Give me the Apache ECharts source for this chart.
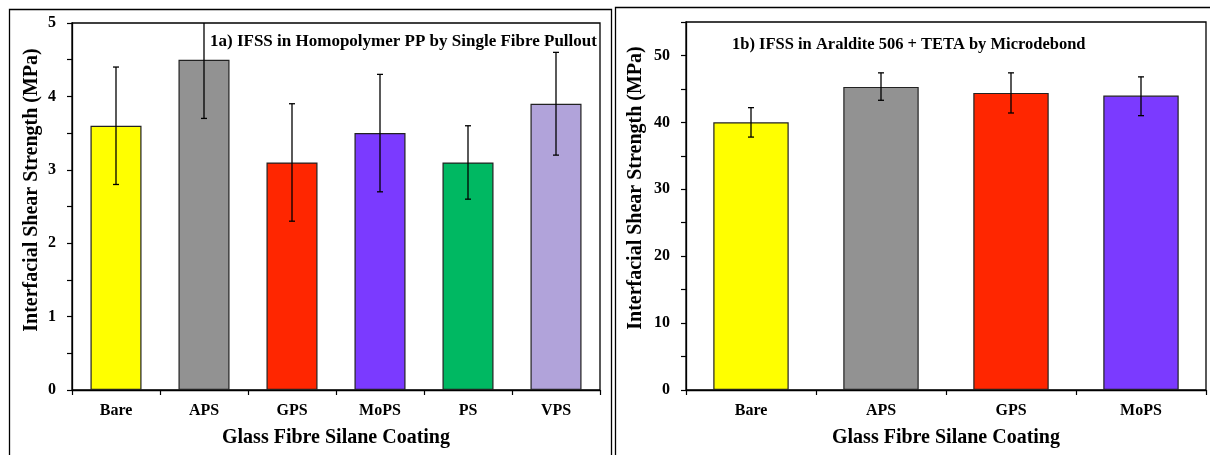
<!DOCTYPE html>
<html><head><meta charset="utf-8">
<script src="https://cdn.jsdelivr.net/npm/echarts@6/dist/echarts.min.js"></script>
<style>html,body{margin:0;padding:0;background:#fff}#c{width:1210px;height:455px}</style>
</head><body><div id="c"></div>
<script>
// ---- Data ----
const catsA = ['Bare', 'APS', 'GPS', 'MoPS', 'PS', 'VPS'];
const valsA = [3.6, 4.5, 3.1, 3.5, 3.1, 3.9];
const errLowA = [2.8, 3.7, 2.3, 2.7, 2.6, 3.2];
const errHighA = [4.4, 5.3, 3.9, 4.3, 3.6, 4.6];
const colorsA = ['#FFFF00', '#929292', '#FF2600', '#7B3AFF', '#00B862', '#B1A3DA'];

const catsB = ['Bare', 'APS', 'GPS', 'MoPS'];
const valsB = [40.0, 45.3, 44.4, 44.0];
const errLowB = [37.8, 43.3, 41.4, 41.0];
const errHighB = [42.2, 47.4, 47.4, 46.8];
const colorsB = ['#FFFF00', '#929292', '#FF2600', '#7B3AFF'];

const titleA = '1a) IFSS in Homopolymer PP by Single Fibre Pullout';
const titleB = '1b) IFSS in Araldite 506 + TETA by Microdebond';
const yName = 'Interfacial Shear Strength (MPa)';
const xName = 'Glass Fibre Silane Coating';

// ---- Chart ----
const FONT = "'Liberation Serif', 'Times New Roman', serif";
const chart = echarts.init(document.getElementById('c'), null, {renderer: 'canvas'});

function errRender(params, api) {
  const i = api.value(0);
  const lo = api.coord([i, api.value(1)]);
  const hi = api.coord([i, api.value(2)]);
  const cs = params.coordSys;
  const top = Math.max(hi[1], cs.y);
  const w = 3;
  const st = {stroke: '#000', lineWidth: 1.3};
  const ch = [
    {type: 'line', shape: {x1: lo[0], y1: lo[1], x2: lo[0], y2: top}, style: st},
    {type: 'line', shape: {x1: lo[0] - w, y1: lo[1], x2: lo[0] + w, y2: lo[1]}, style: st}
  ];
  if (hi[1] >= cs.y) ch.push({type: 'line', shape: {x1: hi[0] - w, y1: hi[1], x2: hi[0] + w, y2: hi[1]}, style: st});
  return {type: 'group', children: ch};
}

function xAx(gi, cats) {
  return {
    type: 'category', gridIndex: gi, data: cats,
    boundaryGap: true,
    axisLine: {show: true, lineStyle: {color: '#000', width: 1.3}},
    axisTick: {show: true, alignWithLabel: false, length: 5, lineStyle: {color: '#000', width: 1.2}},
    axisLabel: {color: '#000', fontFamily: FONT, fontWeight: 'bold', fontSize: 16, margin: 13},
    name: xName, nameLocation: 'middle', nameGap: 38,
    nameTextStyle: {color: '#000', fontFamily: FONT, fontWeight: 'bold', fontSize: 20},
    splitLine: {show: false}
  };
}
function yAx(gi, max, interval, labelStep) {
  return {
    type: 'value', gridIndex: gi, min: 0, max: max, interval: interval,
    axisLine: {show: true, lineStyle: {color: '#000', width: 1.3}},
    axisTick: {show: true, inside: false, length: 5, lineStyle: {color: '#000', width: 1.2}},
    axisLabel: {
      color: '#000', fontFamily: FONT, fontWeight: 'bold', fontSize: 16, margin: 16,
      formatter: function (v) { return (Math.abs(v / labelStep - Math.round(v / labelStep)) < 1e-6) ? String(Math.round(v * 100) / 100) : ''; }
    },
    splitLine: {show: false}
  };
}

const option = {
  backgroundColor: '#fff',
  animation: false,
  title: [
    {text: titleA, left: 210, top: 33, padding: 0, textStyle: {color: '#000', fontFamily: FONT, fontWeight: 'bold', fontSize: 17}},
    {text: titleB, left: 732, top: 36, padding: 0, textStyle: {color: '#000', fontFamily: FONT, fontWeight: 'bold', fontSize: 16.5}}
  ],
  grid: [
    {left: 72, top: 23, width: 528, height: 367, show: true, borderColor: '#000', borderWidth: 1.3, backgroundColor: 'transparent'},
    {left: 686, top: 22, width: 520, height: 368, show: true, borderColor: '#000', borderWidth: 1.3, backgroundColor: 'transparent'}
  ],
  xAxis: [xAx(0, catsA), xAx(1, catsB)],
  yAxis: [yAx(0, 5, 0.5, 1), yAx(1, 55, 5, 10)],
  graphic: [
    {type: 'rect', shape: {x: 9.5, y: 9.5, width: 602, height: 470}, style: {fill: 'none', stroke: '#000', lineWidth: 1.3}, z: -1},
    {type: 'rect', shape: {x: 615.5, y: 7.5, width: 600, height: 470}, style: {fill: 'none', stroke: '#000', lineWidth: 1.3}, z: -1},
    {type: 'text', x: 32, y: 190, rotation: Math.PI / 2,
      style: {text: yName, fill: '#000', font: 'bold 20px ' + FONT, align: 'center', verticalAlign: 'middle'}},
    {type: 'text', x: 636, y: 188, rotation: Math.PI / 2,
      style: {text: yName, fill: '#000', font: 'bold 20px ' + FONT, align: 'center', verticalAlign: 'middle'}}
  ],
  series: [
    {type: 'bar', xAxisIndex: 0, yAxisIndex: 0, barWidth: '58%',
      data: valsA.map((v, i) => ({value: v, itemStyle: {color: colorsA[i], borderColor: '#222', borderWidth: 1.2}}))},
    {type: 'custom', xAxisIndex: 0, yAxisIndex: 0, renderItem: errRender, z: 5,
      encode: {x: 0, y: [1, 2]},
      data: catsA.map((c, i) => [i, errLowA[i], errHighA[i]])},
    {type: 'bar', xAxisIndex: 1, yAxisIndex: 1, barWidth: '58%',
      data: valsB.map((v, i) => ({value: v, itemStyle: {color: colorsB[i], borderColor: '#222', borderWidth: 1.2}}))},
    {type: 'custom', xAxisIndex: 1, yAxisIndex: 1, renderItem: errRender, z: 5,
      encode: {x: 0, y: [1, 2]},
      data: catsB.map((c, i) => [i, errLowB[i], errHighB[i]])}
  ]
};
chart.setOption(option);
</script>
</body></html>
